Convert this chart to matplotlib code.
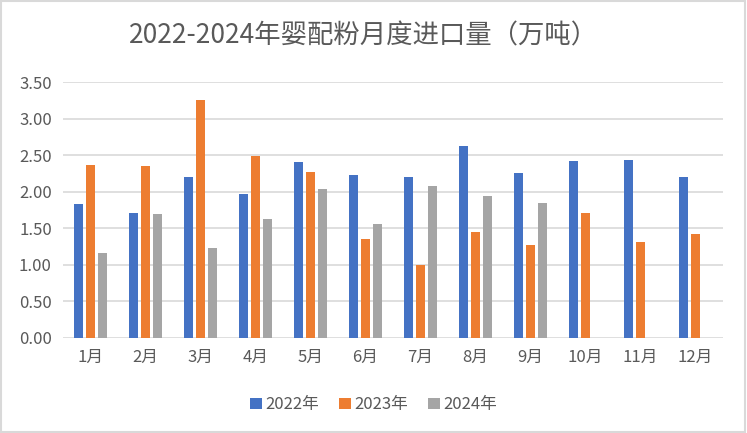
import matplotlib.pyplot as plt
import numpy as np
from matplotlib.patches import Rectangle

plt.rcParams['font.family'] = ['Noto Sans CJK SC', 'DejaVu Sans']

months = ['1月', '2月', '3月', '4月', '5月', '6月', '7月', '8月', '9月', '10月', '11月', '12月']
y2022 = [1.83, 1.71, 2.20, 1.97, 2.41, 2.23, 2.20, 2.62, 2.26, 2.42, 2.43, 2.20]
y2023 = [2.37, 2.35, 3.25, 2.49, 2.27, 1.35, 1.00, 1.45, 1.27, 1.71, 1.31, 1.42]
y2024 = [1.16, 1.70, 1.23, 1.63, 2.04, 1.56, 2.08, 1.94, 1.85]

c22, c23, c24 = '#4472c4', '#ed7d31', '#a5a5a5'
txt = '#595959'

fig = plt.figure(figsize=(7.47, 4.33), dpi=100)
ax = fig.add_axes([0.0843, 0.2194, 0.8837, 0.5912])

x = np.arange(len(months))
w = 0.17
ax.bar(x - 0.22, y2022, w, color=c22, label='2022年', zorder=3)
ax.bar(x, y2023, w, color=c23, label='2023年', zorder=3)
ax.bar(np.arange(len(y2024)) + 0.22, y2024, w, color=c24, label='2024年', zorder=3)

ax.set_xlim(-0.5, len(months) - 0.5)
ax.set_ylim(0, 3.5)
ax.set_yticks(np.arange(0, 3.51, 0.5))
ax.set_yticklabels([f'{v:.2f}' for v in np.arange(0, 3.51, 0.5)])
ax.set_xticks(x)
ax.set_xticklabels(months)
ax.tick_params(axis='both', length=0, labelsize=12, labelcolor=txt)
ax.tick_params(axis='x', pad=8)
ax.tick_params(axis='y', pad=8)
ax.grid(axis='y', color='#d9d9d9', linewidth=1.2, zorder=0)
for s in ax.spines.values():
    s.set_visible(False)

fig.text(0.487, 0.917, '2022-2024年婴配粉月度进口量（万吨）', ha='center', va='center',
         fontsize=19, color=txt)

fig.legend(loc='center', bbox_to_anchor=(0.5, 0.065), ncol=3, frameon=False,
           fontsize=12, labelcolor=txt, handlelength=0.7, handleheight=0.7,
           handletextpad=0.2, columnspacing=1.2)

fig.patches.append(Rectangle((0.002, 0.003), 0.995, 0.994, transform=fig.transFigure,
                             fill=False, edgecolor='#d9d9d9', linewidth=1.5))

fig.savefig('out.png', dpi=100)
